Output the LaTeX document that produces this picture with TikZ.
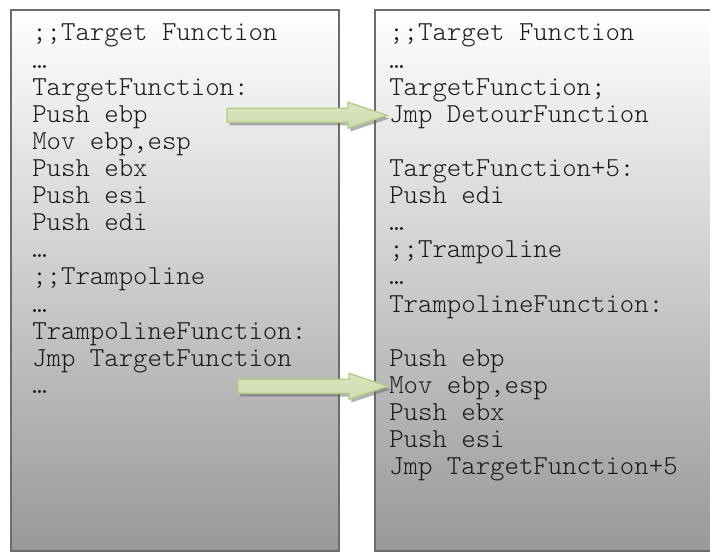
\documentclass[tikz,border=0pt]{standalone}
\usepackage{fontspec}
\setmonofont{Latin Modern Mono Light}
\usetikzlibrary{calc}

\definecolor{panelline}{HTML}{6C6C6C}
\definecolor{arrowline}{HTML}{B4CC86}
\definecolor{arrowtop}{HTML}{D9E5C0}
\definecolor{arrowmid}{HTML}{F4F8EC}
\definecolor{arrowbot}{HTML}{CEDCAE}

\tikzset{
  panel/.style={draw=panelline, line width=1.5pt, top color=white, bottom color=gray!80},
  codeline/.style={anchor=base west, inner sep=0pt, text=black!90,
    font=\ttfamily\fontsize{20.6pt}{20pt}\selectfont},
  blockarrow/.style={draw=arrowline, line width=1pt, line join=miter,
    top color=arrowtop, middle color=arrowmid, bottom color=arrowbot},
  arrowshadow/.style={fill=black!60, opacity=.5}
}

% block arrow from tail (#1) to tip (#2), same height
\newcommand{\fatarrow}[2]{%
  \fill[arrowshadow, transform canvas={shift={(1.8pt,-2.4pt)}}]
    ($(#1)+(0,-7)$) -- ($(#2)+(-39,-7)$) -- ($(#2)+(-39,-13)$) -- (#2)
    -- ($(#2)+(-39,13)$) -- ($(#2)+(-39,7)$) -- ($(#1)+(0,7)$) -- cycle;
  \path[blockarrow]
    ($(#1)+(0,-7)$) -- ($(#2)+(-39,-7)$) -- ($(#2)+(-39,-13)$) -- (#2)
    -- ($(#2)+(-39,13)$) -- ($(#2)+(-39,7)$) -- ($(#1)+(0,7)$) -- cycle;}

\begin{document}
\begin{tikzpicture}[x=0.75pt,y=-0.75pt]
  \clip (0,0) rectangle (710,552);
  % the two listings
  \draw[panel] (11,10) rectangle (339,551);
  \draw[panel] (375,10) rectangle (724,551);
  \foreach \t [count=\i] in {;;Target Function, …, TargetFunction:, Push ebp, {Mov ebp,esp},
      Push ebx, Push esi, Push edi, …, ;;Trampoline, …, TrampolineFunction:, Jmp TargetFunction, …}
    {\node[codeline] (l\i) at (32,{41+(\i-1)*27.1}) {\t};}
  \foreach \t [count=\i] in {;;Target Function, …, TargetFunction;, Jmp DetourFunction, {},
      TargetFunction+5:, Push edi, …, ;;Trampoline, …, TrampolineFunction:, {},
      Push ebp, {Mov ebp,esp}, Push ebx, Push esi, Jmp TargetFunction+5}
    {\node[codeline] (r\i) at (389,{41+(\i-1)*27.1}) {\t};}
  % detour arrows
  \coordinate (tip1) at ($(r4.base west)+(-2,-7)$);
  \coordinate (tail1) at ($(tip1)+(-160,0)$);
  \coordinate (tip2) at ($(r14.base west)+(-1,-7)$);
  \coordinate (tail2) at ($(tip2)+(-150,0)$);
  \fatarrow{tail1}{tip1}
  \fatarrow{tail2}{tip2}
\end{tikzpicture}
\end{document}
